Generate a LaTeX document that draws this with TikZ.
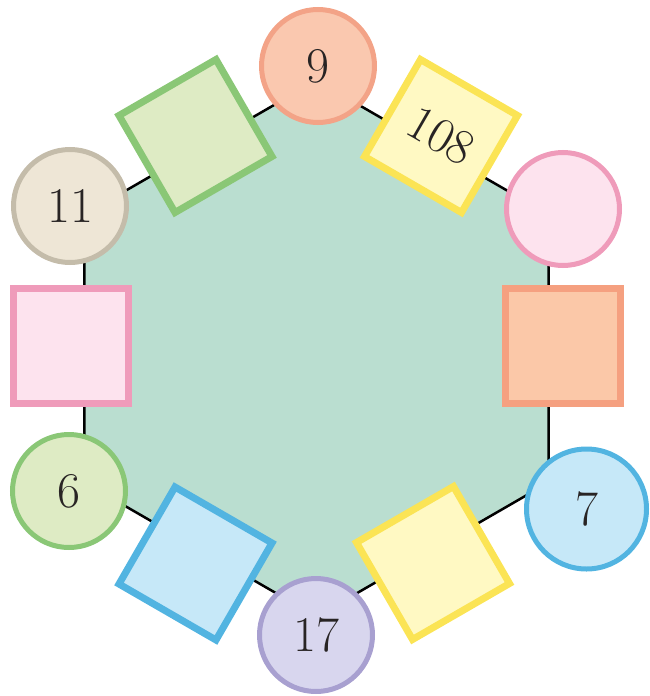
\documentclass[tikz,border=0pt]{standalone}
\usepackage{tikz}
\definecolor{hexfill}{RGB}{186,222,208}
\definecolor{peachF}{RGB}{250,200,175}\definecolor{peachD}{RGB}{243,163,135}
\definecolor{yelF}{RGB}{255,249,195}\definecolor{yelD}{RGB}{251,228,85}
\definecolor{grnF}{RGB}{222,235,196}\definecolor{grnD}{RGB}{138,199,118}
\definecolor{tanF}{RGB}{238,230,214}\definecolor{tanD}{RGB}{196,188,170}
\definecolor{pinkF}{RGB}{253,227,238}\definecolor{pinkD}{RGB}{239,155,186}
\definecolor{orF}{RGB}{251,200,168}\definecolor{orD}{RGB}{245,160,128}
\definecolor{bluF}{RGB}{198,232,248}\definecolor{bluD}{RGB}{82,180,225}
\definecolor{lavF}{RGB}{216,214,238}\definecolor{lavD}{RGB}{168,160,208}
\definecolor{txt}{RGB}{40,36,36}
\begin{document}
\begin{tikzpicture}[x=1pt,y=-1pt,
  circ/.style={circle,minimum size=113pt,inner sep=0pt,line width=5pt,text=txt,font=\fontsize{50}{50}\selectfont},
  sqr/.style={rectangle,minimum size=#1,inner sep=0pt,line width=7pt,text=txt,font=\fontsize{50}{50}\selectfont},
  sqr/.default=112pt]
\useasboundingbox (0,0) rectangle (649,696);
% hexagon vertices
\coordinate (v1) at (316.5,80.5);
\coordinate (v2) at (548.6,214.5);
\coordinate (v3) at (548.6,482.5);
\coordinate (v4) at (316.5,616.5);
\coordinate (v5) at (84.4,482.5);
\coordinate (v6) at (84.4,214.5);
\fill[hexfill] (v1) -- (v2) -- (v3) -- (v4) -- (v5) -- (v6) -- cycle;
\draw[line width=2.5pt,line join=miter] (v1) -- (v2) -- (v3) -- (v4) -- (v5) -- (v6) -- cycle;
% squares on the edges
\node[sqr,rotate=30,draw=grnD,fill=grnF] (sqA) at (195.5,136) {};
\node[sqr,rotate=-30,draw=yelD,fill=yelF] (sqB) at (441,136) {108};
\node[sqr=115pt,draw=orD,fill=orF] (sqC) at (563,346) {};
\node[sqr,rotate=30,draw=yelD,fill=yelF] (sqD) at (433,563) {};
\node[sqr,rotate=-30,draw=bluD,fill=bluF] (sqE) at (195.5,563.5) {};
\node[sqr=115pt,draw=pinkD,fill=pinkF] (sqF) at (70.5,346) {};
% circles at the vertices
\node[circ,draw=peachD,fill=peachF] (cA) at (318,66) {9};
\node[circ,draw=pinkD,fill=pinkF] (cB) at (563,209) {};
\node[circ,minimum size=120pt,draw=bluD,fill=bluF] (cC) at (586.5,509) {7};
\node[circ,draw=lavD,fill=lavF] (cD) at (316,635) {17};
\node[circ,draw=grnD,fill=grnF] (cE) at (69,491) {6};
\node[circ,draw=tanD,fill=tanF] (cF) at (70,206) {11};
\end{tikzpicture}
\end{document}
